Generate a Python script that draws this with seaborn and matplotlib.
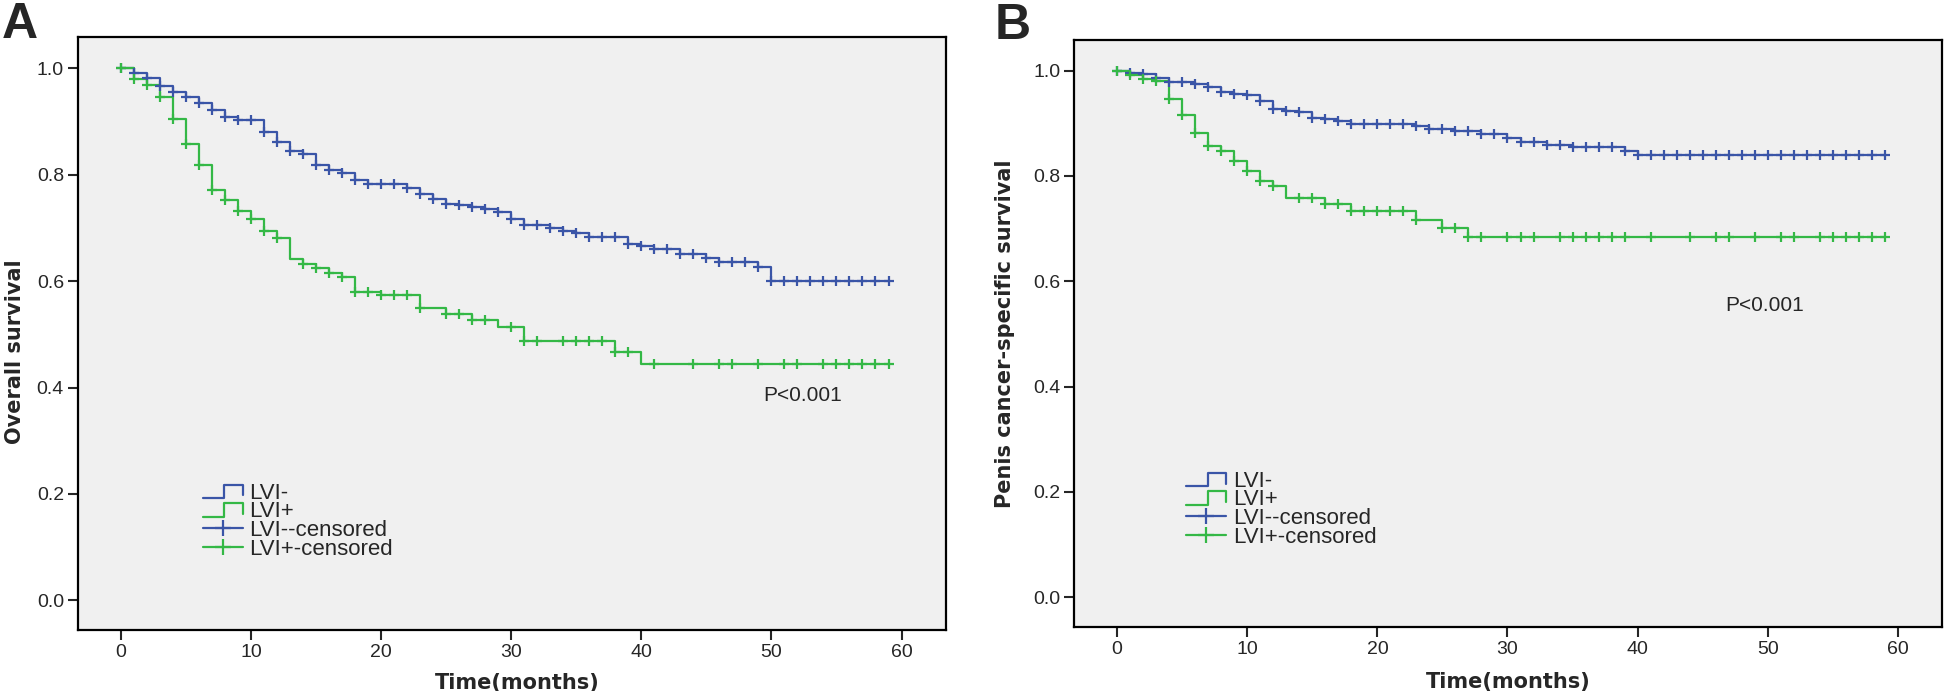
import numpy as np
import matplotlib.pyplot as plt
import seaborn as sns
from matplotlib.lines import Line2D
from matplotlib.legend_handler import HandlerBase

# ---- data (months, survival probability) ----
# A: overall survival
os_neg_times = [0, 1, 2, 3, 4, 5, 6, 7, 8, 9, 11, 12, 13, 14, 15, 16, 17, 18, 19,
                22, 23, 24, 25, 26, 27, 28, 29, 30, 31, 33, 34, 35, 36, 39, 40, 41,
                43, 45, 46, 49, 50]
os_neg_surv = [1.0, 0.991, 0.981, 0.966, 0.956, 0.945, 0.934, 0.922, 0.909, 0.903,
               0.880, 0.861, 0.845, 0.838, 0.818, 0.809, 0.803, 0.790, 0.782,
               0.774, 0.764, 0.754, 0.745, 0.742, 0.739, 0.735, 0.730, 0.717, 0.706,
               0.699, 0.695, 0.691, 0.682, 0.670, 0.666, 0.661,
               0.650, 0.643, 0.636, 0.627, 0.601]
os_neg_cens = [0, 1, 2, 3, 4, 5, 6, 7, 8, 9, 10, 11, 12, 13, 14, 15, 16, 17, 18, 19,
               20, 21, 22, 23, 24, 25, 26, 27, 28, 29, 30, 31, 32, 33, 34, 35, 36, 37,
               38, 39, 40, 41, 42, 43, 44, 45, 46, 47, 48, 49, 50, 51, 52, 53, 54, 55,
               56, 57, 58, 59]

os_pos_times = [0, 1, 2, 3, 4, 5, 6, 7, 8, 9, 10, 11, 12, 13, 14, 15, 16, 17, 18,
                20, 23, 25, 27, 29, 31, 38, 40]
os_pos_surv = [1.0, 0.979, 0.968, 0.945, 0.904, 0.857, 0.819, 0.772, 0.752, 0.731,
               0.717, 0.694, 0.680, 0.641, 0.633, 0.625, 0.616, 0.608, 0.580,
               0.573, 0.550, 0.539, 0.526, 0.514, 0.487, 0.467, 0.445]
os_pos_cens = [0, 1, 2, 3, 4, 5, 6, 7, 8, 9, 10, 11, 12, 14, 15, 16, 17, 18, 19, 20,
               21, 22, 23, 25, 26, 27, 28, 30, 31, 32, 34, 35, 36, 37, 38, 39, 41, 44,
               46, 47, 49, 51, 52, 54, 55, 56, 57, 58, 59]

# B: penis cancer-specific survival
css_neg_times = [0, 1, 2, 3, 4, 6, 7, 8, 9, 10, 11, 12, 13, 14, 15, 16, 17, 18,
                 23, 24, 26, 28, 30, 31, 33, 35, 39, 40]
css_neg_surv = [1.0, 0.996, 0.993, 0.986, 0.979, 0.975, 0.968, 0.960, 0.955, 0.953,
                0.943, 0.928, 0.924, 0.922, 0.910, 0.908, 0.905, 0.899,
                0.895, 0.889, 0.885, 0.880, 0.872, 0.864, 0.859, 0.855, 0.847, 0.840]
css_neg_cens = [0, 1, 2, 3, 4, 5, 6, 7, 8, 9, 10, 11, 12, 13, 14, 15, 16, 17, 18, 19,
                20, 21, 22, 23, 24, 25, 26, 27, 28, 29, 30, 31, 32, 33, 34, 35, 36, 37,
                38, 39, 40, 41, 42, 43, 44, 45, 46, 47, 48, 49, 50, 51, 52, 53, 54, 55,
                56, 57, 58, 59]

css_pos_times = [0, 1, 2, 3, 4, 5, 6, 7, 8, 9, 10, 11, 12, 13, 16, 18, 23, 25, 27]
css_pos_surv = [1.0, 0.992, 0.985, 0.981, 0.947, 0.915, 0.882, 0.856, 0.848, 0.828,
                0.809, 0.790, 0.780, 0.758, 0.746, 0.733, 0.717, 0.702, 0.684]
css_pos_cens = [0, 1, 2, 3, 4, 5, 6, 7, 8, 9, 10, 11, 12, 14, 15, 16, 17, 18, 19, 20,
                21, 22, 23, 25, 26, 27, 28, 30, 31, 32, 34, 35, 36, 37, 38, 39, 41, 44,
                46, 47, 49, 51, 52, 54, 55, 56, 57, 58, 59]

group_labels = ['LVI-', 'LVI+']
x_ticks = [0, 10, 20, 30, 40, 50, 60]
y_ticks = [0.0, 0.2, 0.4, 0.6, 0.8, 1.0]

BLUE = '#3a55a7'
GREEN = '#34b846'
LW = 1.6

sns.set_style('ticks')
plt.rcParams['font.family'] = ['Liberation Sans', 'DejaVu Sans']


class StepHandler(HandlerBase):
    # little step icon used by SPSS for the survival lines
    def create_artists(self, legend, orig_handle, xdescent, ydescent,
                       width, height, fontsize, trans):
        x0, y0 = -xdescent, -ydescent
        xs = [x0, x0 + 0.54 * width, x0 + 0.54 * width, x0 + width, x0 + width]
        ys = [y0 + 0.05 * height, y0 + 0.05 * height, y0 + 0.9 * height,
              y0 + 0.9 * height, y0 + 0.2 * height]
        ln = Line2D(xs, ys, color=orig_handle.get_color(),
                    lw=orig_handle.get_linewidth())
        ln.set_transform(trans)
        return [ln]


def km_panel(ax, curves, ylabel, ptext_xy, leg_anchor, ylab_xy, xlab_xy):
    ax.set_facecolor('#f0f0f0')
    for times, surv, cens, color in curves:
        xs = list(times) + [cens[-1]]
        ys = list(surv) + [surv[-1]]
        sns.lineplot(x=xs, y=ys, ax=ax, color=color, drawstyle='steps-post',
                     linewidth=LW, estimator=None, sort=False, legend=False)
        idx = np.searchsorted(times, cens, side='right') - 1
        cy = np.asarray(surv)[idx]
        sns.scatterplot(x=cens, y=cy, ax=ax, marker='+', s=60, color=color,
                        linewidth=LW, legend=False, zorder=3)

    ax.set_xlim(-3.3, 63.4)
    ax.set_ylim(-0.056, 1.058)
    ax.set_xticks(x_ticks)
    ax.set_yticks(y_ticks)
    ax.set_yticklabels(['%.1f' % v for v in y_ticks])
    ax.tick_params(direction='out', length=7, width=1.5, labelsize=14,
                   top=False, right=False, pad=3)
    for sp in ax.spines.values():
        sp.set_linewidth(1.6)
        sp.set_color('black')

    ax.set_ylabel(ylabel, fontfamily='DejaVu Sans', fontweight='bold', fontsize=15)
    ax.yaxis.set_label_coords(*ylab_xy)
    ax.set_xlabel('Time(months)', fontfamily='DejaVu Sans', fontweight='bold',
                  fontsize=15)
    ax.xaxis.set_label_coords(*xlab_xy)

    ax.text(ptext_xy[0], ptext_xy[1], 'P<0.001', fontsize=15, va='center')

    h_neg = Line2D([], [], color=BLUE, lw=LW)
    h_pos = Line2D([], [], color=GREEN, lw=LW)
    c_neg = Line2D([], [], color=BLUE, lw=LW, marker='+', markersize=12, mew=LW)
    c_pos = Line2D([], [], color=GREEN, lw=LW, marker='+', markersize=12, mew=LW)
    ax.legend([h_neg, h_pos, c_neg, c_pos],
              [group_labels[0], group_labels[1],
               group_labels[0] + '-censored', group_labels[1] + '-censored'],
              handler_map={h_neg: StepHandler(), h_pos: StepHandler()},
              loc='upper left', bbox_to_anchor=leg_anchor, frameon=False,
              fontsize=16, handlelength=1.8, handletextpad=0.3,
              labelspacing=-0.1, borderpad=0, borderaxespad=0, numpoints=1)


fig = plt.figure(figsize=(19.46, 6.91), dpi=100)
axA = fig.add_axes([0.040, 0.088, 0.446, 0.858])
axB = fig.add_axes([0.552, 0.093, 0.446, 0.849])

km_panel(axA,
         [(os_neg_times, os_neg_surv, os_neg_cens, BLUE),
          (os_pos_times, os_pos_surv, os_pos_cens, GREEN)],
         'Overall survival', (49.4, 0.385), (0.144, 0.249), (-0.061, 0.47),
         (0.506, -0.072))
km_panel(axB,
         [(css_neg_times, css_neg_surv, css_neg_cens, BLUE),
          (css_pos_times, css_pos_surv, css_pos_cens, GREEN)],
         'Penis cancer-specific survival', (46.7, 0.554), (0.129, 0.266),
         (-0.068, 0.5), (0.50, -0.078))

fig.text(2 / 1946, 1 - 2 / 691, 'A', fontsize=36, fontweight='bold', va='top')
fig.text(995 / 1946, 1 - 3 / 691, 'B', fontsize=36, fontweight='bold', va='top')

fig.savefig('out.png', dpi=100)
